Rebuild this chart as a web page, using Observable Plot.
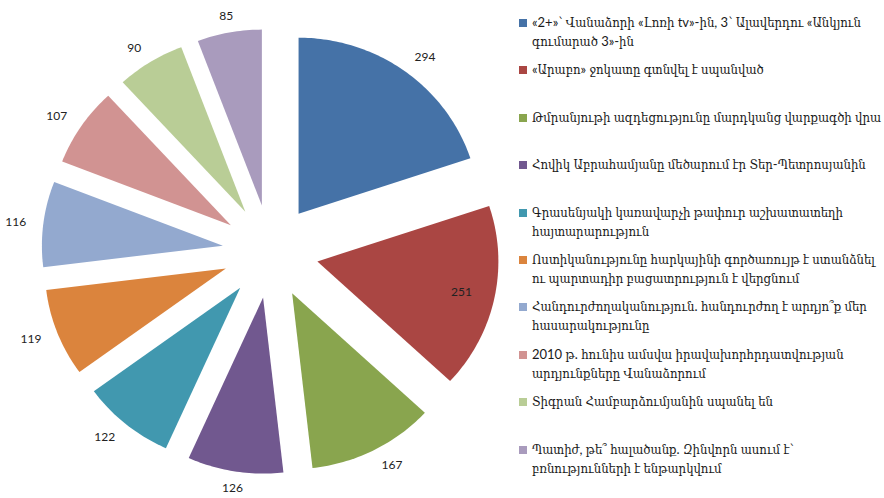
<!DOCTYPE html>
<html><head><meta charset="utf-8">
<script src="https://cdn.jsdelivr.net/npm/d3@7"></script>
<script src="https://cdn.jsdelivr.net/npm/@observablehq/plot@0.6"></script>
<style>
body{margin:0;background:#fff;}
#wrap{position:relative;width:884px;height:498px;overflow:hidden;background:#fff;}
#chart{position:absolute;left:0;top:0;}
#legend{position:absolute;left:519px;top:13px;width:365px;}
.item{position:absolute;left:0;display:flex;align-items:flex-start;}
.sw{width:8px;height:8px;margin-top:6px;margin-right:5px;flex:none;}
.lab{font-family:Lato,"DejaVu Serif Condensed","DejaVu Serif",serif;font-stretch:condensed;font-size:13px;line-height:19px;color:#1a1a1a;width:350px;}
</style></head><body><div id="wrap"><div id="chart"></div><div id="legend"></div></div>
<script>
const categories = [
  "«2+»՝ Վանաձորի «Լոռի tv»-ին, 3՝ Ալավերդու «Անկյուն գումարած 3»-ին",
  "«Արաբո» ջոկատը գտնվել է սպանված",
  "Թմրանյութի ազդեցությունը մարդկանց վարքագծի վրա",
  "Հովիկ Աբրահամյանը մեծարում էր Տեր-Պետրոսյանին",
  "Գրասենյակի կառավարչի թափուր աշխատատեղի հայտարարություն",
  "Ոստիկանությունը հարկայինի գործառույթ է ստանձնել ու պարտադիր բացատրություն է վերցնում",
  "Հանդուրժողականություն. հանդուրժող է արդյո՞ք մեր հասարակությունը",
  "2010 թ. հունիս ամսվա իրավախորհրդատվության արդյունքները Վանաձորում",
  "Տիգրան Համբարձումյանին սպանել են",
  "Պատիժ, թե՞ հալածանք. Զինվորն ասում է՝ բռնությունների է ենթարկվում"
];
const values = [294, 251, 167, 126, 122, 119, 116, 107, 90, 85];
const colors = ["#4572A7", "#AA4643", "#89A54E", "#71588F", "#4198AF", "#DB843D", "#93A9CF", "#D19392", "#B9CD96", "#A99BBD"];
const insideLabels = [251];

// layout (pixels)
const W = 510, H = 498, CX = 270, CY = 251, RX_PX = 181, RY_PX = 176;
// geometry in radius units
const EXPLODE = 0.265, LABEL_R = 1.36, INSIDE_R = 1.08;

const total = d3.sum(values);
let acc = 0;
const slices = values.map((v, i) => {
  const a0 = acc / total * 2 * Math.PI; acc += v;
  const a1 = acc / total * 2 * Math.PI;
  return {category: categories[i], value: v, a0, a1, mid: (a0 + a1) / 2};
});
const pts = [];
for (const s of slices) {
  const ox = EXPLODE * Math.sin(s.mid), oy = EXPLODE * Math.cos(s.mid);
  pts.push({category: s.category, x: ox, y: oy});
  const n = Math.max(2, Math.ceil((s.a1 - s.a0) / (Math.PI / 180)));
  for (let k = 0; k <= n; k++) {
    const t = s.a0 + (s.a1 - s.a0) * k / n;
    pts.push({category: s.category, x: ox + Math.sin(t), y: oy + Math.cos(t)});
  }
}
const labels = slices.map(s => {
  const inside = insideLabels.includes(s.value);
  const r = inside ? INSIDE_R : LABEL_R;
  const sn = Math.sin(s.mid);
  return {
    text: String(s.value),
    x: r * sn,
    y: r * Math.cos(s.mid),
    anchor: inside ? "middle" : sn > 0.25 ? "start" : sn < -0.25 ? "end" : "middle"
  };
});

const plot = Plot.plot({
  width: W, height: H, margin: 0,
  style: {background: "transparent"},
  x: {domain: [-CX / RX_PX, (W - CX) / RX_PX], axis: null},
  y: {domain: [-(H - CY) / RY_PX, CY / RY_PX], axis: null},
  color: {domain: categories, range: colors},
  marks: [
    Plot.line(pts, {x: "x", y: "y", z: "category", fill: "category", stroke: "none", curve: "linear-closed"}),
    ...["start", "middle", "end"].map(a =>
      Plot.text(labels.filter(d => d.anchor === a), {x: "x", y: "y", text: "text", textAnchor: a, fontSize: 12, fill: "#222", fontFamily: "Lato, 'Open Sans', sans-serif"}))
  ]
});
document.getElementById("chart").appendChild(plot);

const legend = d3.select("#legend");
categories.forEach((c, i) => {
  const it = legend.append("div").attr("class", "item").style("top", (i * 47.4) + "px");
  it.append("div").attr("class", "sw").style("background", colors[i]);
  it.append("div").attr("class", "lab").text(c);
});
</script></body></html>
